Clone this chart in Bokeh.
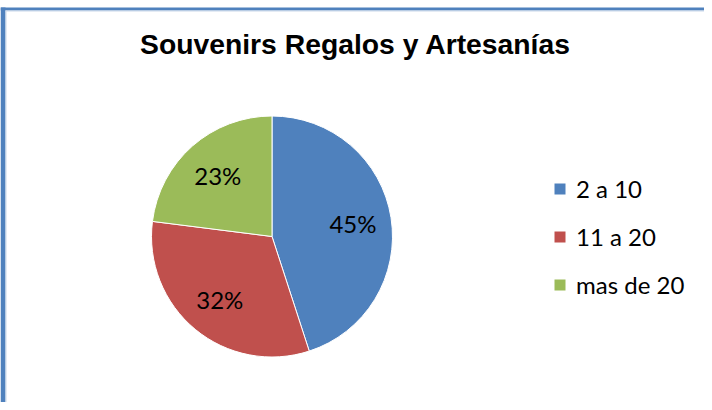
import math
from bokeh.plotting import figure
from bokeh.models import Legend, LegendItem, ColumnDataSource, Range1d
from bokeh.core.properties import value
from bokeh.embed import file_html
from bokeh.resources import INLINE

title_text = "Souvenirs Regalos y Artesanías"
categories = ["2 a 10", "11 a 20", "mas de 20"]
shares = [45, 32, 23]
colors = ["#4F81BD", "#C0504D", "#9BBB59"]

W, H = 704, 402
p = figure(width=W, height=H, output_backend="svg", toolbar_location=None,
           x_range=Range1d(0, W), y_range=Range1d(0, H), min_border=0,
           background_fill_color="white", border_fill_color="white")
p.axis.visible = False
p.grid.visible = False
p.outline_line_color = None

# chart-area frame (only top and left edges visible)
p.quad(left=[0], right=[5], bottom=[0], top=[395], fill_color="#4F81BD", line_color=None)
p.quad(left=[0], right=[W], bottom=[392], top=[395], fill_color="#4F81BD", line_color=None)
p.quad(left=[5], right=[W], bottom=[391], top=[392], fill_color="#C9D7EA", line_color=None)
p.quad(left=[5], right=[6], bottom=[0], top=[392], fill_color="#C9D7EA", line_color=None)

cx, cy, R = 271.5, 166, 120.5
total = sum(shares)
starts, ends, lx, ly, labels = [], [], [], [], []
cum = 0
for s in shares:
    a0 = math.pi / 2 - 2 * math.pi * cum / total
    a1 = math.pi / 2 - 2 * math.pi * (cum + s) / total
    mid = (a0 + a1) / 2
    starts.append(a0)
    ends.append(a1)
    lx.append(cx + 0.68 * R * math.cos(mid))
    ly.append(cy + 0.68 * R * math.sin(mid))
    labels.append(f"{round(100 * s / total)}%")
    cum += s

items = []
for i, cat in enumerate(categories):
    r = p.wedge(x=cx, y=cy, radius=R, start_angle=starts[i], end_angle=ends[i],
                direction="clock", fill_color=colors[i], line_color="white", line_width=1)
    items.append(LegendItem(label=cat, renderers=[r]))

src = ColumnDataSource(dict(x=lx, y=ly, t=labels))
p.text(x="x", y="y", text="t", source=src, text_font=value("Lato"), text_font_size="24px",
       text_align="center", text_baseline="middle", text_color="black")

p.text(x=[355], y=[359], text=[title_text], text_font=value("Liberation Sans"),
       text_font_style="bold", text_font_size="28.3px", text_align="center",
       text_baseline="alphabetic", text_color="black")

legend = Legend(items=items, location=(552, 103), glyph_width=15, glyph_height=15,
                label_text_font="Lato", label_text_font_size="24px", label_height=30,
                spacing=18, padding=0, margin=0, border_line_color=None,
                background_fill_alpha=0, label_standoff=9, label_text_color="black")
p.add_layout(legend)

open("out.html", "w").write(file_html(p, INLINE))
